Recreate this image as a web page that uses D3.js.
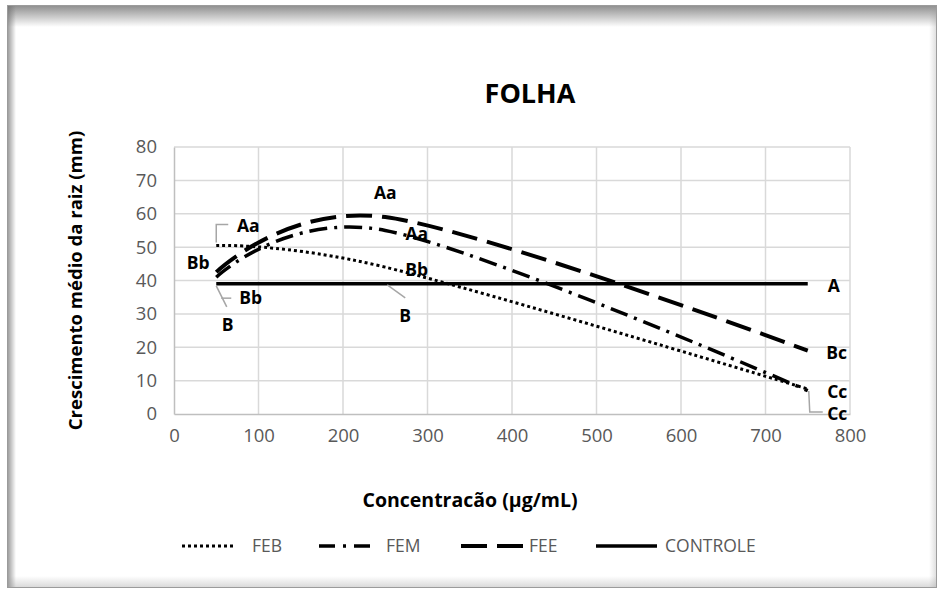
<!DOCTYPE html>
<html>
<head>
<meta charset="utf-8">
<script src="https://cdn.jsdelivr.net/npm/d3@7"></script>
<style>
  html, body { margin: 0; padding: 0; background: #ffffff; }
  svg { display: block; font-family: "Open Sans", "DejaVu Sans", sans-serif; }
</style>
</head>
<body>
<div id="chart"></div>
<script>
// ---- data ----
const concentrations = [50, 250, 750];
const febValues = [50.5, 44, 7.5];
const femValues = [41, 55, 7];
const feeValues = [42.5, 59, 19];
const controleValues = [39, 39, 39];

const febLetters = ["Aa", "Bb", "Cc"];
const femLetters = ["Bb", "Aa", "Cc"];
const feeLetters = ["Bb", "Aa", "Bc"];
const controleLetters = ["B", "B", "A"];

const seriesNames = ["FEB", "FEM", "FEE", "CONTROLE"];
const xTicks = [0, 100, 200, 300, 400, 500, 600, 700, 800];
const yTicks = [0, 10, 20, 30, 40, 50, 60, 70, 80];

// ---- layout ----
const width = 939, height = 590;
const plot = { left: 174, right: 850, top: 147, bottom: 414 };

const svg = d3.select("#chart").append("svg")
    .attr("width", width)
    .attr("height", height);

//=================================================
// frame with inner shadow
//=================================================
const defs = svg.append("defs");
function shade(id, x1, y1, x2, y2, dark, op) {
    const g = defs.append("linearGradient").attr("id", id)
        .attr("x1", x1).attr("y1", y1).attr("x2", x2).attr("y2", y2);
    g.append("stop").attr("offset", "0%").attr("stop-color", dark).attr("stop-opacity", op);
    g.append("stop").attr("offset", "100%").attr("stop-color", dark).attr("stop-opacity", 0);
}
shade("shTop", 0, 0, 0, 1, "#6f6f6f", 0.8);
shade("shLeft", 0, 0, 1, 0, "#6f6f6f", 0.75);
shade("shRight", 1, 0, 0, 0, "#9a9a9a", 0.35);
shade("shBottom", 0, 1, 0, 0, "#9a9a9a", 0.4);

const frame = { x: 7, y: 5, w: 930, h: 583 };
svg.append("rect").attr("x", frame.x).attr("y", frame.y)
    .attr("width", frame.w).attr("height", frame.h).attr("fill", "#ffffff");
svg.append("rect").attr("x", frame.x).attr("y", frame.y)
    .attr("width", frame.w).attr("height", 22).attr("fill", "url(#shTop)");
svg.append("rect").attr("x", frame.x).attr("y", frame.y)
    .attr("width", 9).attr("height", frame.h).attr("fill", "url(#shLeft)");
svg.append("rect").attr("x", frame.x + frame.w - 8).attr("y", frame.y)
    .attr("width", 8).attr("height", frame.h).attr("fill", "url(#shRight)");
svg.append("rect").attr("x", frame.x).attr("y", frame.y + frame.h - 12)
    .attr("width", frame.w).attr("height", 12).attr("fill", "url(#shBottom)");
svg.append("rect").attr("x", frame.x + 0.5).attr("y", frame.y + 0.5)
    .attr("width", frame.w - 1).attr("height", frame.h - 1)
    .attr("fill", "none").attr("stroke", "#9b9b9b").attr("stroke-width", 1);

//=================================================
// scales, grid, axes
//=================================================
const scaleX = d3.scaleLinear().domain([0, 800]).range([plot.left, plot.right]);
const scaleY = d3.scaleLinear().domain([0, 80]).range([plot.bottom, plot.top]);

const grid = svg.append("g").attr("class", "grid");
grid.selectAll("line.h").data(yTicks.filter(d => d > 0)).join("line")
    .attr("class", "h")
    .attr("x1", plot.left).attr("x2", plot.right)
    .attr("y1", d => scaleY(d)).attr("y2", d => scaleY(d))
    .attr("stroke", "#d9d9d9").attr("stroke-width", 1.5);
grid.selectAll("line.v").data(xTicks.filter(d => d > 0)).join("line")
    .attr("class", "v")
    .attr("y1", plot.top).attr("y2", plot.bottom)
    .attr("x1", d => scaleX(d)).attr("x2", d => scaleX(d))
    .attr("stroke", "#d9d9d9").attr("stroke-width", 1.5);

const axisX = svg.append("g")
    .attr("transform", "translate(0," + plot.bottom + ")")
    .call(d3.axisBottom(scaleX).tickValues(xTicks).tickSize(0).tickPadding(15));
const axisY = svg.append("g")
    .attr("transform", "translate(" + plot.left + ",0)")
    .call(d3.axisLeft(scaleY).tickValues(yTicks).tickSize(0).tickPadding(17));
[axisX, axisY].forEach(a => {
    a.select(".domain").attr("stroke", "#bfbfbf").attr("stroke-width", 1.5);
    a.selectAll("text")
        .attr("fill", "#595959")
        .attr("font-size", 18.5)
        .attr("font-family", "'Open Sans', sans-serif");
});
axisX.selectAll("text").attr("dy", "0.71em");

//=================================================
// titles
//=================================================
svg.append("text")
    .attr("x", 530).attr("y", 103)
    .attr("text-anchor", "middle")
    .attr("font-size", 27).attr("font-weight", "bold")
    .attr("fill", "#000")
    .text("FOLHA");

svg.append("text")
    .attr("x", 470).attr("y", 507)
    .attr("text-anchor", "middle")
    .attr("font-size", 19.5).attr("font-weight", "bold")
    .attr("fill", "#000")
    .text("Concentracão (µg/mL)");

svg.append("text")
    .attr("transform", "translate(82," + ((plot.top + plot.bottom) / 2) + ") rotate(-90)")
    .attr("text-anchor", "middle")
    .attr("font-size", 18.5).attr("font-weight", "bold")
    .attr("fill", "#000")
    .text("Crescimento médio da raiz (mm)");

//=================================================
// series
//=================================================
const styles = {
    FEB: { width: 3, dash: "3 3" },
    FEM: { width: 3.5, dash: "18 7 3 7" },
    FEE: { width: 4, dash: "26 10" },
    CONTROLE: { width: 3.5, dash: null }
};

const series = [
    { name: "FEB", values: febValues, letters: febLetters,
      offsets: [[32, -20], [31.5, 3], [29.5, 25]],
      leaders: [[[0, -3], [0, -21], [12, -21]], null, [[1, 2], [2, 23], [15, 23]]] },
    { name: "FEM", values: femValues, letters: femLetters,
      offsets: [[34.5, 21], [31.5, 3.5], [29.5, 1]],
      leaders: [[[5, 21], [15, 21]], null, null] },
    { name: "FEE", values: feeValues, letters: feeLetters,
      offsets: [[-18, -9.5], [0, -24], [29, 2.5]],
      leaders: [null, null, null] },
    { name: "CONTROLE", values: controleValues, letters: controleLetters,
      offsets: [[11.5, 41], [20, 32], [26, 2]],
      leaders: [[[0, 2], [10.5, 23]], [[2, 1], [20, 14]], null] }
];

const line = d3.line()
    .x(d => scaleX(d.x))
    .y(d => scaleY(d.y))
    .curve(d3.curveCardinal.tension(0));

const lines = svg.append("g").attr("class", "lines");
series.forEach(s => {
    const pts = concentrations.map((c, i) => ({ x: c, y: s.values[i] }));
    const st = styles[s.name];
    lines.append("path")
        .datum(pts)
        .attr("d", line)
        .attr("fill", "none")
        .attr("stroke", "#000")
        .attr("stroke-width", st.width)
        .attr("stroke-dasharray", st.dash);
});

// leader lines and data labels
const labels = svg.append("g").attr("class", "labels");
series.forEach(s => {
    concentrations.forEach((c, i) => {
        const px = scaleX(c), py = scaleY(s.values[i]);
        const ld = s.leaders[i];
        if (ld) {
            labels.append("polyline")
                .attr("points", ld.map(p => (px + p[0]) + "," + (py + p[1])).join(" "))
                .attr("fill", "none")
                .attr("stroke", "#a6a6a6")
                .attr("stroke-width", 1.5);
        }
        labels.append("text")
            .attr("x", px + s.offsets[i][0])
            .attr("y", py + s.offsets[i][1])
            .attr("dy", "0.36em")
            .attr("text-anchor", "middle")
            .attr("font-size", 17.5)
            .attr("font-weight", "bold")
            .attr("fill", "#000")
            .text(s.letters[i]);
    });
});

//=================================================
// legend
//=================================================
const legendY = 546;
const legendItems = [
    { x1: 182, x2: 235, tx: 252 },
    { x1: 319, x2: 370, tx: 386 },
    { x1: 461, x2: 523, tx: 529 },
    { x1: 596, x2: 657, tx: 665 }
];
const legendDash = { FEB: "3 3", FEM: "16 8 3 8", FEE: "26 10", CONTROLE: null };
const legend = svg.append("g").attr("class", "legend");
seriesNames.forEach((name, i) => {
    const it = legendItems[i];
    legend.append("line")
        .attr("x1", it.x1).attr("x2", it.x2)
        .attr("y1", legendY).attr("y2", legendY)
        .attr("stroke", "#000")
        .attr("stroke-width", styles[name].width)
        .attr("stroke-dasharray", legendDash[name]);
    legend.append("text")
        .attr("x", it.tx).attr("y", legendY)
        .attr("dy", "0.36em")
        .attr("font-size", 17.5)
        .attr("fill", "#595959")
        .text(name);
});
</script>
</body>
</html>
